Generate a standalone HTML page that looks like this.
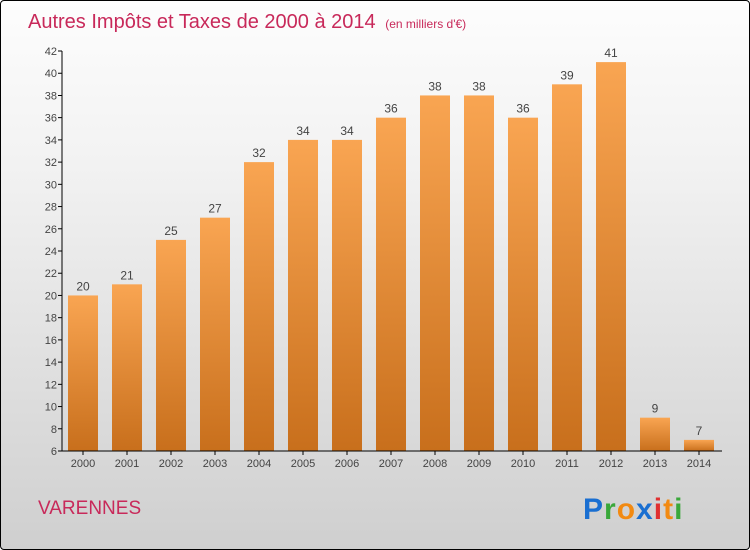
<!DOCTYPE html>
<html><head><meta charset="utf-8"><style>
body{margin:0}
#c{width:750px;height:550px;position:relative;box-sizing:border-box;border:1px solid #000;border-radius:4px;background:linear-gradient(#fdfdfd,#f2f2f2 30%,#cfcfcf);overflow:hidden;font-family:"Liberation Sans",sans-serif}
</style></head><body>
<div id="c">
<svg width="750" height="550" style="position:absolute;left:0;top:0">
<defs><linearGradient id="bg" x1="0" y1="0" x2="0" y2="1"><stop offset="0" stop-color="#f9a552"/><stop offset="1" stop-color="#c86f1c"/></linearGradient></defs>
<text x="27" y="27" font-size="20" fill="#c8295a">Autres Impôts et Taxes de 2000 à 2014 <tspan font-size="12" dx="4">(en milliers d'€)</tspan></text>
<g id="plot"></g>
<text x="37" y="513" font-size="19" fill="#c8295a">VARENNES</text>
<text x="582" y="518" font-size="30" font-weight="bold" letter-spacing="1"><tspan fill="#1a6fd1">P</tspan><tspan fill="#3aa83a">r</tspan><tspan fill="#f28a12">o</tspan><tspan fill="#1a6fd1">x</tspan><tspan fill="#e03030">i</tspan><tspan fill="#f28a12">t</tspan><tspan fill="#3aa83a">i</tspan></text>
</svg>
</div>
<script>
const years=["2000","2001","2002","2003","2004","2005","2006","2007","2008","2009","2010","2011","2012","2013","2014"];
const values=[20,21,25,27,32,34,34,36,38,38,36,39,41,9,7];
const yTicks=[6,8,10,12,14,16,18,20,22,24,26,28,30,32,34,36,38,40,42];
const NS="http://www.w3.org/2000/svg";
const g=document.getElementById('plot');
const y=v=>450-(v-6)*400/36;
const x=i=>82+i*44;
function mk(t,a,p){const e=document.createElementNS(NS,t);for(const k in a)e.setAttribute(k,a[k]);(p||g).appendChild(e);return e;}
yTicks.forEach(v=>{
 const l=mk('line',{x1:57,x2:61,y1:y(v),y2:y(v),stroke:'#000'});
 
 
 const t=mk('text',{x:56,y:y(v)+4,'font-size':11,fill:'#444','text-anchor':'end'});t.textContent=v;
 
 
});
values.forEach((v,i)=>{
 const r=mk('rect',{x:x(i)-15,y:y(v),width:30,height:450-y(v),fill:'url(#bg)'});
 
 
 const t=mk('text',{x:x(i),y:y(v)-5,'font-size':12,fill:'#444','text-anchor':'middle'});t.textContent=v;
 
 
 const k=mk('line',{x1:x(i),x2:x(i),y1:450,y2:454,stroke:'#000'});
 
 
 const xl=mk('text',{x:x(i),y:466,'font-size':11,fill:'#444','text-anchor':'middle'});xl.textContent=years[i];
 
 
});
const ya=mk('line',{x1:61,x2:61,y1:50,y2:450,stroke:'#000'});


const xa=mk('line',{x1:61,x2:721,y1:450,y2:450,stroke:'#000'});


</script>
</body></html>
